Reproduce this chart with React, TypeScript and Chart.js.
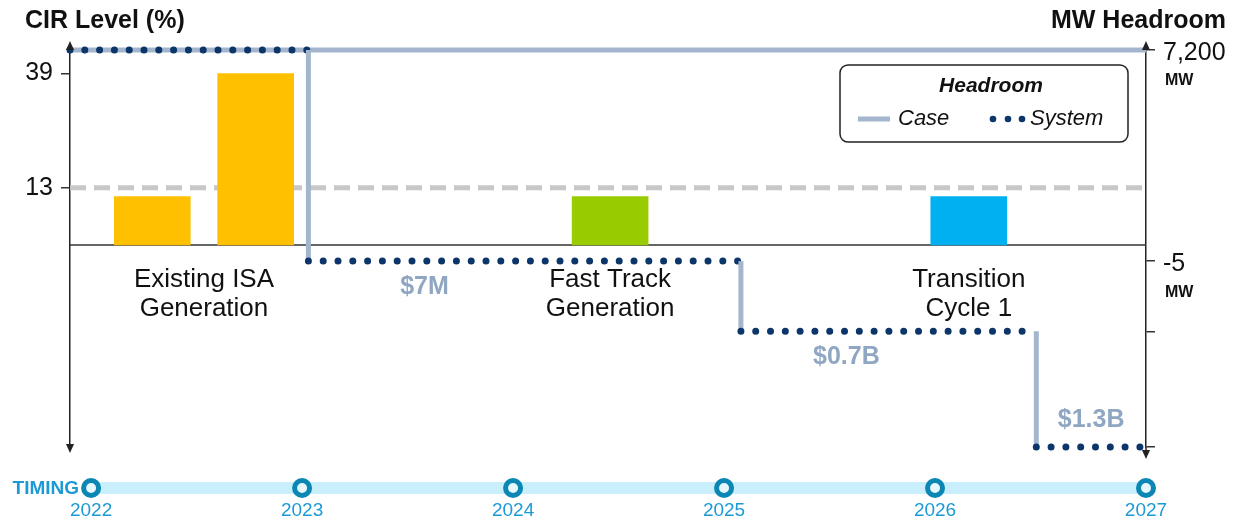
import React, { useEffect, useRef } from 'react';
import { Chart, registerables } from 'chart.js';

Chart.register(...registerables);

const FONT = "'Liberation Sans', Arial, Helvetica, sans-serif";

// ---- Timeline (x axis, years) ----
const timelineYears = [2022, 2023, 2024, 2025, 2026, 2027];
const timelineLabel = 'TIMING';
const X_MIN = 2021.9;
const X_MAX = 2027;

// ---- CIR level bars (left axis, %) ----
const barYears = [2022.29, 2022.78, 2024.46, 2026.16];
const barCIR = [11, 39, 11, 11];
const barColors = ['#FFC000', '#FFC000', '#99CC00', '#00B0F0'];
const barGroup = [0, 0, 1, 2];
const groupNames = [
  ['Existing ISA', 'Generation'],
  ['Fast Track', 'Generation'],
  ['Transition', 'Cycle 1'],
];
const cirTicks = [13, 39];
const cirThreshold = 13;
const leftTitle = 'CIR Level (%)';

// ---- Headroom (right axis, MW) ----
const rightTitle = 'MW Headroom';
const caseHeadroom = 7200;
const stepYears = [2023.03, 2025.08, 2026.48];
const systemHeadroom = [7200, -5, -2400, -6350];
const headroomTicks = [7200, -5, -2400, -6350];
const headroomTickLabels = ['7,200', '-5', '', ''];
const headroomUnitShown = [true, true, false, false];
const headroomUnit = 'MW';
const stepCosts = ['$7M', '$0.7B', '$1.3B'];
const costLabelYears = [2023.58, 2025.58, 2026.74];
const costLabelSide = ['below', 'below', 'above'];
const legendTitle = 'Headroom';

const CASE_COLOR = '#A3B6CD';
const SYSTEM_COLOR = '#0C3569';
const COST_COLOR = '#8FA7C3';
const TIMELINE_TEXT = '#1B9AD6';
const TIMELINE_RING = '#0C87B4';
const TIMELINE_BAND = '#C9EFFC';

const barPoints = barYears.map((x, i) => ({ x, y: barCIR[i] }));
const thresholdPoints = [
  { x: X_MIN, y: cirThreshold },
  { x: X_MAX, y: cirThreshold },
];
const casePoints = [
  { x: X_MIN, y: caseHeadroom },
  { x: X_MAX, y: caseHeadroom },
];
const systemPoints: { x: number; y: number }[] = [{ x: X_MIN, y: systemHeadroom[0] }];
stepYears.forEach((t, i) => {
  systemPoints.push({ x: t, y: systemHeadroom[i] }, { x: t, y: systemHeadroom[i + 1] });
});
systemPoints.push({ x: X_MAX, y: systemHeadroom[systemHeadroom.length - 1] });

function arrowV(ctx: CanvasRenderingContext2D, x: number, yFrom: number, yTip: number) {
  const dir = Math.sign(yTip - yFrom);
  ctx.beginPath();
  ctx.moveTo(x, yFrom);
  ctx.lineTo(x, yTip - dir * 6);
  ctx.stroke();
  ctx.beginPath();
  ctx.moveTo(x, yTip);
  ctx.lineTo(x - 4, yTip - dir * 9);
  ctx.lineTo(x + 4, yTip - dir * 9);
  ctx.closePath();
  ctx.fill();
}

const decorPlugin = {
  id: 'decor',
  beforeDatasetsDraw(chart: any) {
    const { ctx, chartArea: ca, scales } = chart;
    const y0 = scales.yL.getPixelForValue(0);
    ctx.save();
    ctx.strokeStyle = '#333';
    ctx.lineWidth = 1.5;
    ctx.beginPath();
    ctx.moveTo(ca.left, y0);
    ctx.lineTo(ca.right, y0);
    ctx.stroke();
    ctx.restore();
  },
  afterDraw(chart: any) {
    const { ctx, chartArea: ca, scales } = chart;
    const xs = scales.x;
    const yL = scales.yL;
    const yR = scales.yR;
    ctx.save();

    // Axis titles
    ctx.fillStyle = '#111';
    ctx.font = `bold 25px ${FONT}`;
    ctx.textBaseline = 'middle';
    ctx.textAlign = 'left';
    ctx.fillText(leftTitle, 25, 21);
    ctx.textAlign = 'right';
    ctx.fillText(rightTitle, 1226, 21);

    // Axis arrows
    ctx.strokeStyle = '#222';
    ctx.fillStyle = '#222';
    ctx.lineWidth = 1.5;
    arrowV(ctx, ca.left, ca.top, ca.top - 9);
    arrowV(ctx, ca.left, ca.bottom, ca.bottom + 6);
    arrowV(ctx, ca.right, ca.top, ca.top - 9);
    arrowV(ctx, ca.right, ca.bottom, ca.bottom + 12);

    // Unit labels on right axis
    ctx.fillStyle = '#111';
    ctx.font = `bold 16px ${FONT}`;
    ctx.textAlign = 'left';
    ctx.textBaseline = 'middle';
    headroomTicks.forEach((v, i) => {
      if (headroomUnitShown[i]) ctx.fillText(headroomUnit, ca.right + 19, yR.getPixelForValue(v) + 31);
    });

    // Group labels
    const y0 = yL.getPixelForValue(0);
    ctx.font = `26px ${FONT}`;
    ctx.textAlign = 'center';
    ctx.textBaseline = 'alphabetic';
    ctx.fillStyle = '#111';
    groupNames.forEach((lines, g) => {
      const ys = barYears.filter((_, i) => barGroup[i] === g);
      const cx = xs.getPixelForValue(ys.reduce((a, b) => a + b, 0) / ys.length);
      lines.forEach((t, li) => ctx.fillText(t, cx, y0 + 42 + li * 29));
    });

    // Cost labels
    ctx.font = `bold 25px ${FONT}`;
    ctx.fillStyle = COST_COLOR;
    ctx.textBaseline = 'middle';
    stepCosts.forEach((t, i) => {
      const py = yR.getPixelForValue(systemHeadroom[i + 1]);
      const off = costLabelSide[i] === 'below' ? 26 : -27;
      ctx.fillText(t, xs.getPixelForValue(costLabelYears[i]), py + off);
    });

    // Legend
    const lx = 840, ly = 65, lw = 288, lh = 77;
    ctx.beginPath();
    ctx.roundRect(lx, ly, lw, lh, 8);
    ctx.fillStyle = '#fff';
    ctx.fill();
    ctx.strokeStyle = '#222';
    ctx.lineWidth = 1.5;
    ctx.stroke();
    ctx.fillStyle = '#111';
    ctx.font = `italic bold 21px ${FONT}`;
    ctx.textAlign = 'center';
    ctx.fillText(legendTitle, lx + 151, ly + 21);
    const dsCase = chart.data.datasets.find((d: any) => d.label === 'Case');
    const dsSys = chart.data.datasets.find((d: any) => d.label === 'System');
    const iy = ly + 54;
    ctx.strokeStyle = dsCase.borderColor;
    ctx.lineWidth = 5;
    ctx.beginPath();
    ctx.moveTo(lx + 18, iy);
    ctx.lineTo(lx + 50, iy);
    ctx.stroke();
    ctx.fillStyle = dsSys.borderColor;
    [153, 168, 182].forEach((dx) => {
      ctx.beginPath();
      ctx.arc(lx + dx, iy, 3.3, 0, Math.PI * 2);
      ctx.fill();
    });
    ctx.fillStyle = '#111';
    ctx.font = `italic 22px ${FONT}`;
    ctx.textAlign = 'left';
    ctx.fillText(dsCase.label, lx + 58, iy);
    ctx.fillText(dsSys.label, lx + 190, iy);

    // Timeline
    const ty = 488;
    const tx0 = xs.getPixelForValue(timelineYears[0]);
    const tx1 = xs.getPixelForValue(timelineYears[timelineYears.length - 1]);
    ctx.fillStyle = TIMELINE_BAND;
    ctx.fillRect(tx0, ty - 6, tx1 - tx0, 12);
    timelineYears.forEach((yr) => {
      const px = xs.getPixelForValue(yr);
      ctx.beginPath();
      ctx.arc(px, ty, 7.5, 0, Math.PI * 2);
      ctx.fillStyle = '#E6F7FD';
      ctx.fill();
      ctx.lineWidth = 5;
      ctx.strokeStyle = TIMELINE_RING;
      ctx.stroke();
    });
    ctx.fillStyle = TIMELINE_TEXT;
    ctx.font = `bold 19px ${FONT}`;
    ctx.textAlign = 'right';
    ctx.textBaseline = 'middle';
    ctx.fillText(timelineLabel, tx0 - 12, ty + 1);

    ctx.restore();
  },
};

export default function App() {
  const ref = useRef<HTMLCanvasElement>(null);
  useEffect(() => {
    const canvas = ref.current;
    if (!canvas) return;
    Chart.defaults.font.family = FONT;
    const isVertical = (c: any) => Math.abs(c.p0.x - c.p1.x) < 0.5;
    const chart = new Chart(canvas, {
      type: 'bar',
      data: {
        datasets: [
          {
            type: 'line',
            label: 'System',
            data: systemPoints,
            yAxisID: 'yR',
            order: 0,
            borderColor: SYSTEM_COLOR,
            borderWidth: 7,
            borderDash: [0, 14.8],
            borderCapStyle: 'round',
            pointRadius: 0,
            clip: false,
            segment: {
              borderColor: (c: any) => (isVertical(c) ? CASE_COLOR : undefined),
              borderDash: (c: any) => (isVertical(c) ? [] : undefined),
              borderWidth: (c: any) => (isVertical(c) ? 5 : undefined),
              borderCapStyle: (c: any) => (isVertical(c) ? 'butt' : undefined),
            },
          } as any,
          {
            type: 'line',
            label: 'Case',
            data: casePoints,
            yAxisID: 'yR',
            order: 1,
            borderColor: CASE_COLOR,
            borderWidth: 5,
            pointRadius: 0,
            clip: false,
          } as any,
          {
            type: 'bar',
            label: 'CIR Level',
            data: barPoints,
            yAxisID: 'yL',
            order: 2,
            backgroundColor: barColors,
            borderWidth: 0,
            barThickness: 76,
          } as any,
          {
            type: 'line',
            label: 'CIR Threshold',
            data: thresholdPoints,
            yAxisID: 'yL',
            order: 3,
            borderColor: '#C8C8C8',
            borderWidth: 5,
            borderDash: [16, 8],
            pointRadius: 0,
          } as any,
        ],
      },
      options: {
        responsive: false,
        animation: false,
        devicePixelRatio: 1,
        events: [],
        layout: { padding: { top: 50, left: 0, right: 0, bottom: 0 } },
        plugins: {
          legend: { display: false },
          tooltip: { enabled: false },
          title: { display: false },
        },
        scales: {
          x: {
            type: 'linear',
            position: 'bottom',
            min: X_MIN,
            max: X_MAX,
            offset: false,
            grid: { display: false, drawTicks: false, offset: false },
            border: { display: false },
            afterBuildTicks: (s: any) => {
              s.ticks = timelineYears.map((v) => ({ value: v }));
            },
            afterFit: (s: any) => {
              s.height = 73;
            },
            ticks: {
              padding: 52,
              autoSkip: false,
              maxRotation: 0,
              color: TIMELINE_TEXT,
              font: { size: 19, family: FONT },
              callback: (v: any) => String(v),
            },
          },
          yL: {
            type: 'linear',
            position: 'left',
            min: -45.94,
            max: 44.35,
            afterBuildTicks: (s: any) => {
              s.ticks = cirTicks.map((v) => ({ value: v }));
            },
            afterFit: (s: any) => {
              s.width = 70;
            },
            grid: { drawOnChartArea: false, tickLength: 9, color: '#333', lineWidth: 1.5 },
            border: { display: true, color: '#222', width: 1.5 },
            ticks: { padding: 8, color: '#111', font: { size: 25, family: FONT } },
          },
          yR: {
            type: 'linear',
            position: 'right',
            min: -6350,
            max: 7200,
            afterBuildTicks: (s: any) => {
              s.ticks = headroomTicks.map((v) => ({ value: v }));
            },
            afterFit: (s: any) => {
              s.width = 91;
            },
            grid: { drawOnChartArea: false, tickLength: 9, color: '#333', lineWidth: 1.5 },
            border: { display: true, color: '#222', width: 1.5 },
            ticks: {
              padding: 8,
              labelOffset: 3,
              color: '#111',
              font: { size: 25, family: FONT },
              callback: (v: any) => {
                const i = headroomTicks.indexOf(v);
                return i >= 0 ? headroomTickLabels[i] : '';
              },
            },
          },
        },
      },
      plugins: [decorPlugin],
    } as any);
    return () => chart.destroy();
  }, []);
  return (
    <div style={{ position: 'fixed', left: 0, top: 0, width: 1237, height: 520, background: '#fff' }}>
      <canvas ref={ref} width={1237} height={520} style={{ display: 'block' }} />
    </div>
  );
}
